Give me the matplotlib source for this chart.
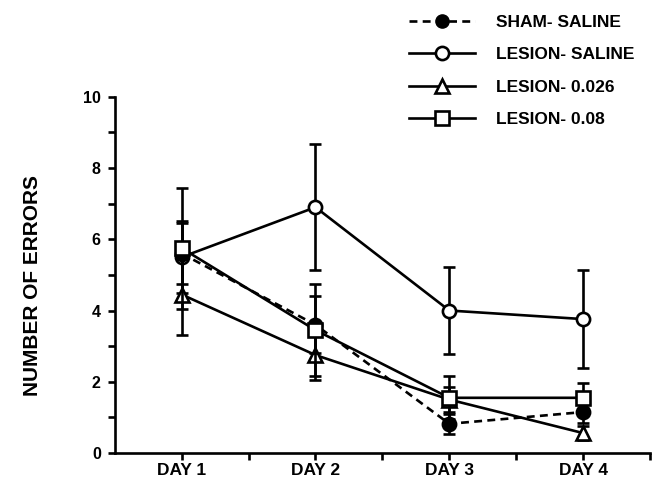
import matplotlib
matplotlib.use("Agg")
import matplotlib.pyplot as plt
from matplotlib.lines import Line2D

days = ["DAY 1", "DAY 2", "DAY 3", "DAY 4"]
sham_saline = [5.6, 3.6, 0.82, 1.15]
sham_saline_err = [0.85, 0.8, 0.28, 0.3]
lesion_saline = [5.5, 6.9, 4.0, 3.76]
lesion_saline_err = [1.0, 1.77, 1.22, 1.38]
lesion_026 = [4.45, 2.75, 1.5, 0.56]
lesion_026_err = [1.15, 0.7, 0.35, 0.2]
lesion_08 = [5.75, 3.45, 1.55, 1.55]
lesion_08_err = [1.7, 1.3, 0.6, 0.42]
labels = ["SHAM- SALINE", "LESION- SALINE", "LESION- 0.026", "LESION- 0.08"]

plt.rcParams['font.family'] = ['Liberation Sans', 'DejaVu Sans']
plt.rcParams['font.weight'] = 'bold'

fig = plt.figure(figsize=(6.52, 4.84), dpi=100)
ax = fig.add_axes([0.176, 0.064, 0.821, 0.736])

x = list(range(1, len(days) + 1))
lw = 1.9
ms = 9.5
common = dict(color='black', linewidth=lw, markersize=ms, markeredgewidth=1.9,
              elinewidth=lw, capsize=4, capthick=lw)

ax.errorbar(x, lesion_saline, yerr=lesion_saline_err, marker='o', mfc='white',
            linestyle='-', zorder=3, **common)
ax.errorbar(x, lesion_026, yerr=lesion_026_err, marker='^', mfc='white',
            linestyle='-', zorder=4, **common)
ax.errorbar(x, sham_saline, yerr=sham_saline_err, marker='o', mfc='black',
            linestyle=(0, (3, 2)), zorder=5, **common)
ax.errorbar(x, lesion_08, yerr=lesion_08_err, marker='s', mfc='white',
            linestyle='-', zorder=6, **common)

ax.set_xlim(0.5, 4.5)
ax.set_ylim(0, 10)
ax.set_xticks(x)
ax.set_xticklabels(days, fontsize=12.5, fontweight='bold')
ax.set_xticks([1.5, 2.5, 3.5, 4.5], minor=True)
ax.set_yticks([0, 2, 4, 6, 8, 10])
ax.set_yticklabels(["0", "2", "4", "6", "8", "10"], fontsize=11.5, fontweight='bold')
ax.set_yticks([1, 3, 5, 7, 9], minor=True)
ax.tick_params(axis='both', which='both', direction='out', width=1.9, length=5)
ax.tick_params(axis='x', pad=2)
ax.tick_params(axis='y', pad=5)
for s in ['top', 'right']:
    ax.spines[s].set_visible(False)
for s in ['left', 'bottom']:
    ax.spines[s].set_linewidth(1.9)

ax.set_ylabel("NUMBER OF ERRORS", fontsize=15, fontweight='bold', labelpad=26)
ax.yaxis.set_label_coords(-0.135, 0.47)

handles = [
    Line2D([], [], color='black', lw=lw, linestyle=(0, (3, 2)), marker='o', mfc='black', ms=ms),
    Line2D([], [], color='black', lw=lw, marker='o', mfc='white', ms=ms, mew=1.9),
    Line2D([], [], color='black', lw=lw, marker='^', mfc='white', ms=ms, mew=1.9),
    Line2D([], [], color='black', lw=lw, marker='s', mfc='white', ms=ms, mew=1.9),
]
fig.legend(handles, labels, loc='upper left', bbox_to_anchor=(0.603, 1.002),
           frameon=False, prop={'weight': 'bold', 'size': 12.5},
           handlelength=3.8, labelspacing=1.0, handletextpad=1.2)

fig.savefig("out.png", dpi=100)
